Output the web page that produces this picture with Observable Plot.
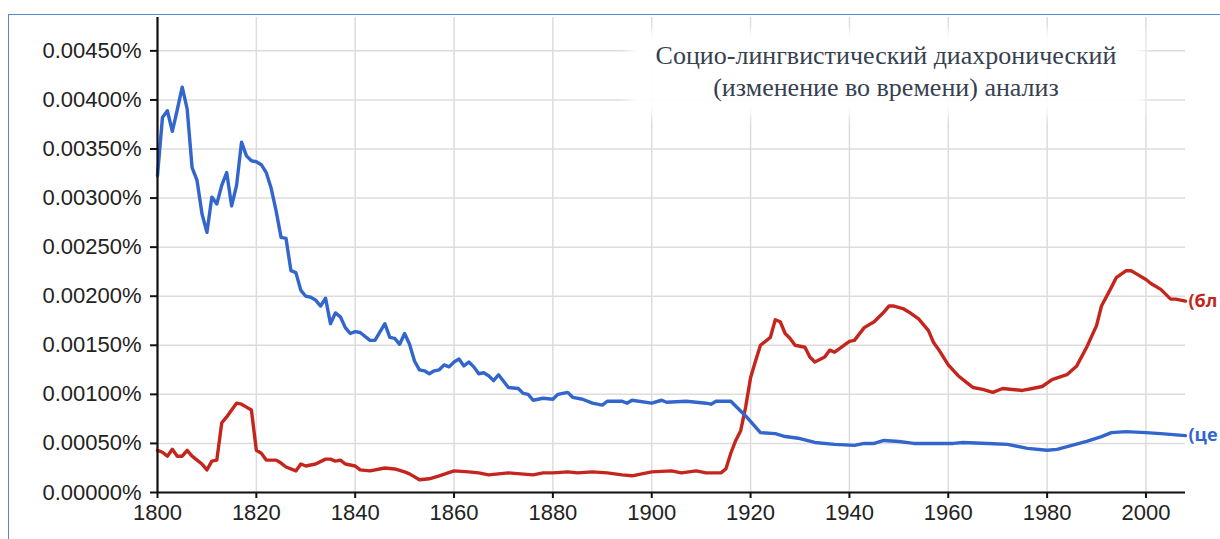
<!DOCTYPE html>
<html>
<head>
<meta charset="utf-8">
<script src="https://cdn.jsdelivr.net/npm/d3@7"></script>
<script src="https://cdn.jsdelivr.net/npm/@observablehq/plot@0.6"></script>
<style>
  html, body { margin: 0; padding: 0; background: #fff; overflow: hidden; }
  #wrap { position: relative; width: 1220px; height: 539px; overflow: hidden; }
  #frame { position: absolute; left: 8px; top: 14px; width: 1300px; height: 600px; border: 1.5px solid #5b86d6; box-sizing: border-box; }
  #chart { position: absolute; left: 0; top: 0; }
  #title { position: absolute; left: 636px; top: 38px; width: 500px; padding: 2px 0 4px 0;
           text-align: center; font-family: "Liberation Serif", "Times New Roman", serif; font-size: 26px;
           line-height: 32px; color: #36414f; background: rgba(255,255,255,0.92);
           box-shadow: 0 0 10px 8px rgba(255,255,255,0.92); }
</style>
</head>
<body>
<div id="wrap">
  <div id="frame"></div>
  <div id="chart"></div>
  <div id="title">Социо-лингвистический диахронический<br>(изменение во времени) анализ</div>
</div>
<script>
// ---- data (values in %) ----
const seriesNames = ["(бл", "(це"];
const seriesColors = ["#c4261d", "#3366cc"];

const blue = [
  [1800,0.00323],[1801,0.00382],[1802,0.00389],[1803,0.00368],[1804,0.00390],[1805,0.00413],[1806,0.00391],
  [1807,0.00331],[1808,0.00318],[1809,0.00284],[1810,0.00265],[1811,0.00301],[1812,0.00294],[1813,0.00313],
  [1814,0.00326],[1815,0.00292],[1816,0.00313],[1817,0.00357],[1818,0.00343],[1819,0.00338],[1820,0.00337],
  [1821,0.00334],[1822,0.00326],[1823,0.00310],[1824,0.00287],[1825,0.00260],[1826,0.00259],[1827,0.00226],
  [1828,0.00224],[1829,0.00206],[1830,0.00200],[1831,0.00199],[1832,0.00196],[1833,0.00190],[1834,0.00198],
  [1835,0.00172],[1836,0.00183],[1837,0.00179],[1838,0.00168],[1839,0.00162],[1840,0.00164],[1841,0.00163],
  [1843,0.00155],[1844,0.00155],[1846,0.00172],[1847,0.00158],[1848,0.00157],[1849,0.00151],[1850,0.00162],
  [1851,0.00151],[1852,0.00134],[1853,0.00125],[1854,0.00124],[1855,0.00121],[1856,0.00124],[1857,0.00125],
  [1858,0.00130],[1859,0.00128],[1860,0.00133],[1861,0.00136],[1862,0.00129],[1863,0.00133],[1864,0.00128],
  [1865,0.00121],[1866,0.00122],[1867,0.00119],[1868,0.00114],[1869,0.00120],[1871,0.00107],[1873,0.00106],
  [1874,0.00101],[1875,0.00100],[1876,0.00094],[1878,0.00096],[1880,0.00095],[1881,0.00100],[1882,0.00101],
  [1883,0.00102],[1884,0.00097],[1886,0.00095],[1888,0.00091],[1890,0.00089],[1891,0.00093],[1894,0.00093],
  [1895,0.00091],[1896,0.00094],[1900,0.00091],[1902,0.00094],[1903,0.00092],[1907,0.00093],[1911,0.00091],
  [1912,0.00090],[1913,0.00093],[1916,0.00093],[1919,0.00078],[1922,0.00061],[1925,0.00060],[1927,0.00057],
  [1930,0.00055],[1933,0.00051],[1937,0.00049],[1941,0.00048],[1943,0.00050],[1945,0.00050],[1947,0.00053],
  [1950,0.00052],[1953,0.00050],[1957,0.00050],[1961,0.00050],[1963,0.00051],[1968,0.00050],[1972,0.00049],
  [1976,0.00045],[1980,0.00043],[1982,0.00044],[1985,0.00048],[1988,0.00052],[1991,0.00057],[1993,0.00061],
  [1996,0.00062],[2000,0.00061],[2003,0.00060],[2008,0.00058]
];

const red = [
  [1800,0.00043],[1801,0.00041],[1802,0.00037],[1803,0.00044],[1804,0.00037],[1805,0.00037],[1806,0.00043],
  [1807,0.00037],[1808,0.00033],[1809,0.00029],[1810,0.00023],[1811,0.00032],[1812,0.00033],[1813,0.00071],
  [1814,0.00077],[1815,0.00084],[1816,0.00091],[1817,0.00090],[1818,0.00087],[1819,0.00084],[1820,0.00043],
  [1821,0.00040],[1822,0.00033],[1824,0.00033],[1825,0.00030],[1826,0.00026],[1828,0.00022],[1829,0.00029],
  [1830,0.00027],[1832,0.00029],[1834,0.00034],[1835,0.00034],[1836,0.00032],[1837,0.00033],[1838,0.00029],
  [1840,0.00027],[1841,0.00023],[1843,0.00022],[1846,0.00025],[1848,0.00024],[1850,0.00021],[1851,0.00019],
  [1853,0.00013],[1855,0.00014],[1857,0.00017],[1860,0.00022],[1863,0.00021],[1865,0.00020],[1867,0.00018],
  [1869,0.00019],[1871,0.00020],[1876,0.00018],[1878,0.00020],[1880,0.00020],[1883,0.00021],[1885,0.00020],
  [1888,0.00021],[1891,0.00020],[1894,0.00018],[1896,0.00017],[1898,0.00019],[1900,0.00021],[1904,0.00022],
  [1906,0.00020],[1909,0.00022],[1911,0.00020],[1914,0.00020],[1915,0.00024],[1916,0.00040],[1917,0.00053],
  [1918,0.00063],[1919,0.00087],[1920,0.00117],[1921,0.00134],[1922,0.00150],[1924,0.00158],[1925,0.00176],
  [1926,0.00174],[1927,0.00162],[1928,0.00157],[1929,0.00150],[1931,0.00148],[1932,0.00138],[1933,0.00133],
  [1935,0.00138],[1936,0.00145],[1937,0.00143],[1940,0.00154],[1941,0.00155],[1943,0.00168],[1945,0.00174],
  [1947,0.00184],[1948,0.00190],[1949,0.00190],[1951,0.00187],[1952,0.00184],[1954,0.00177],[1956,0.00165],
  [1957,0.00153],[1958,0.00146],[1960,0.00130],[1962,0.00119],[1964,0.00111],[1965,0.00107],[1967,0.00105],
  [1969,0.00102],[1971,0.00106],[1973,0.00105],[1975,0.00104],[1977,0.00106],[1979,0.00108],[1981,0.00115],
  [1984,0.00120],[1986,0.00129],[1988,0.00148],[1990,0.00170],[1991,0.00190],[1993,0.00209],[1994,0.00219],
  [1996,0.00226],[1997,0.00226],[1998,0.00223],[2000,0.00217],[2001,0.00213],[2003,0.00207],[2005,0.00197],
  [2006,0.00197],[2008,0.00195]
];

const xTicks = [1800, 1820, 1840, 1860, 1880, 1900, 1920, 1940, 1960, 1980, 2000];
const yTicks = [0, 0.0005, 0.001, 0.0015, 0.002, 0.0025, 0.003, 0.0035, 0.004, 0.0045];

// ---- build table ----
const rows = [];
[red, blue].forEach((s, i) => s.forEach(([year, value]) => rows.push({year, value, series: seriesNames[i]})));
const lastPoints = [red, blue].map((s, i) => ({year: s[s.length - 1][0], value: s[s.length - 1][1], series: seriesNames[i]}));

const chart = Plot.plot({
  width: 1220,
  height: 539,
  marginLeft: 157,
  marginRight: 35,
  marginTop: 17,
  marginBottom: 47,
  style: {fontFamily: "'Liberation Sans', Arial, sans-serif", fontSize: "22px", color: "#222", background: "transparent", overflow: "visible"},
  x: {domain: [1800, 2008]},
  y: {domain: [0, 0.00484]},
  color: {domain: seriesNames, range: seriesColors},
  marks: [
    Plot.gridX(xTicks, {stroke: "#dcdcdc", strokeOpacity: 1, strokeWidth: 1.5}),
    Plot.gridY(yTicks, {stroke: "#dcdcdc", strokeOpacity: 1, strokeWidth: 1.5}),
    Plot.axisY(yTicks, {tickFormat: d => d.toFixed(5) + "%", tickSize: 7, tickPadding: 9, strokeWidth: 2, label: null, fill: "#222", stroke: "#111"}),
    Plot.axisX(xTicks, {tickFormat: d => String(d), tickSize: 6, tickPadding: 6, strokeWidth: 2, label: null, fill: "#222", stroke: "#111"}),
    Plot.line(rows, {x: "year", y: "value", z: "series", stroke: d => d.series, strokeWidth: 3.4, strokeLinejoin: "round"}),
    Plot.ruleX([1800], {stroke: "#111", strokeWidth: 2.2}),
    Plot.ruleY([0], {stroke: "#111", strokeWidth: 2.2}),
    Plot.text(lastPoints, {x: "year", y: "value", text: "series", fill: d => d.series, dx: 3, textAnchor: "start", fontWeight: "bold", fontSize: 18, fontFamily: "'Open Sans', 'Liberation Sans', Arial, sans-serif"})
  ]
});
document.getElementById("chart").appendChild(chart);
</script>
</body>
</html>
